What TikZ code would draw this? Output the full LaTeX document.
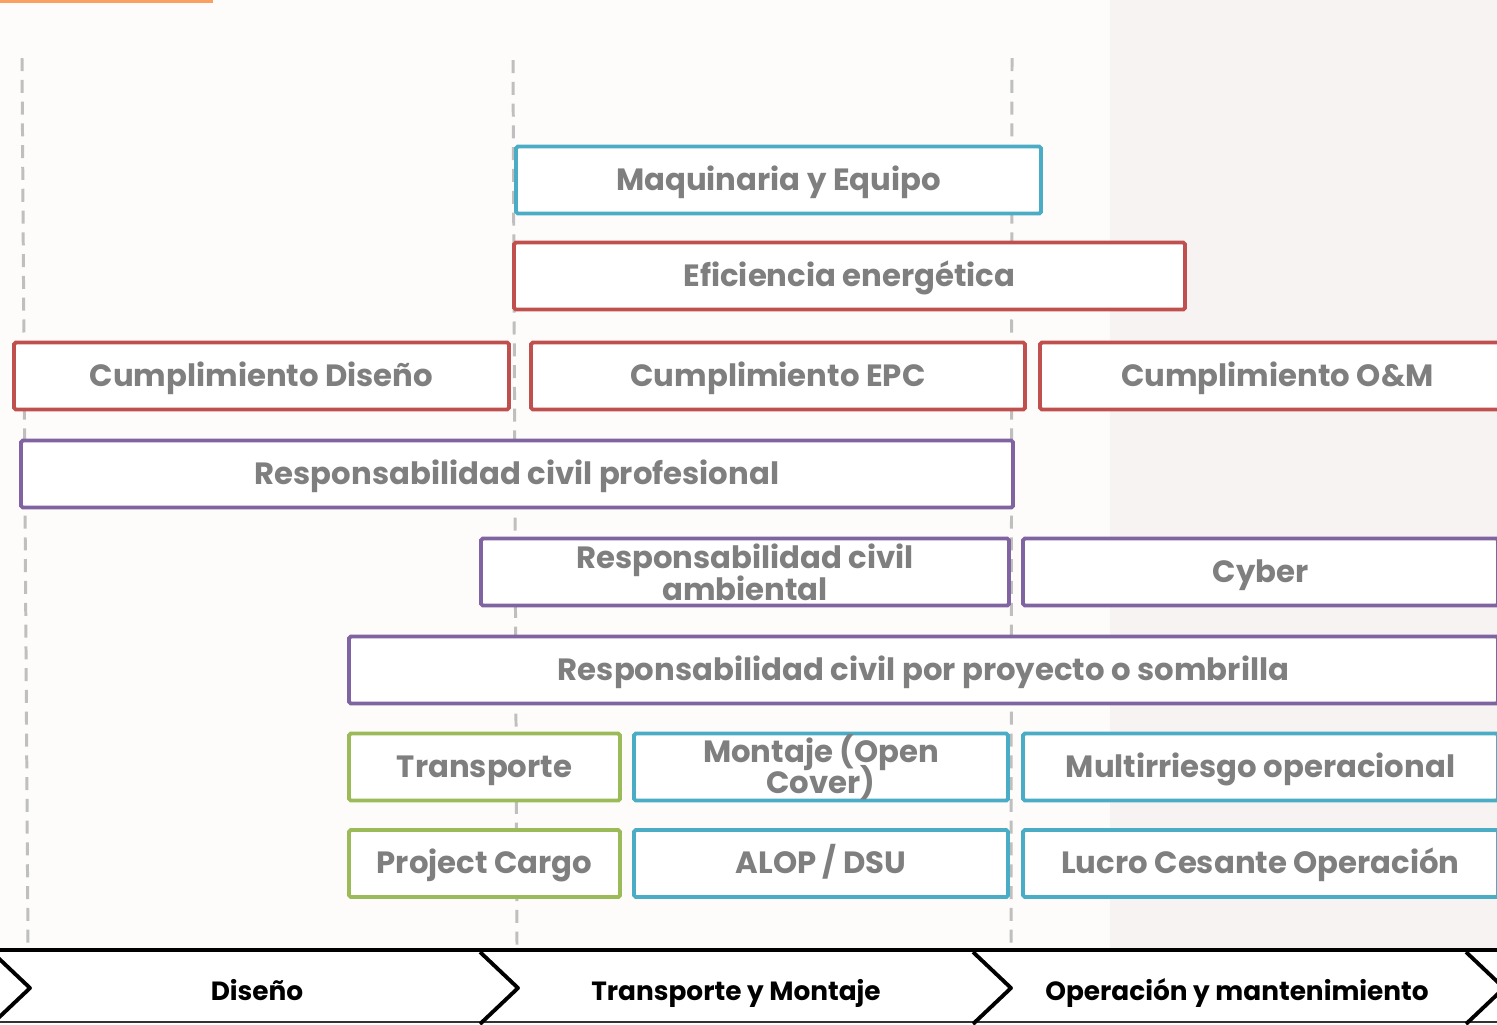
\documentclass[tikz,border=0pt]{standalone}
\usepackage{fontspec}
\setmainfont{Poppins}
\usepackage{tikz}
\usetikzlibrary{positioning, calc}
\definecolor{paperleft}{RGB}{253, 252, 250}
\definecolor{paperright}{RGB}{247, 243, 242}
\definecolor{accentorange}{RGB}{249, 160, 98}
\definecolor{boxred}{RGB}{192, 80, 77}
\definecolor{boxblue}{RGB}{75, 172, 198}
\definecolor{boxpurple}{RGB}{128, 100, 162}
\definecolor{boxgreen}{RGB}{155, 187, 89}
\definecolor{labelgray}{RGB}{127, 127, 127}
\definecolor{guidegray}{RGB}{191, 191, 191}
\newcommand{\coverfont}{\fontsize{17.5}{18}\selectfont\bfseries\lineskiplimit-20pt\relax}

\begin{document}
\begin{tikzpicture}[
    cover/.style={draw, line width=2.2pt, rounded corners=1pt, fill=white,
                  minimum height=1.34cm, inner sep=0pt, align=center,
                  text height=13pt, text depth=1.6pt, text=labelgray,
                  font=\coverfont},
    twoline/.style={text height=, text depth=},
    redbox/.style={cover, draw=boxred},
    bluebox/.style={cover, draw=boxblue},
    purplebox/.style={cover, draw=boxpurple},
    greenbox/.style={cover, draw=boxgreen},
    guide/.style={draw=guidegray, line width=1.7pt, dash pattern=on 7.4pt off 5pt},
    chev/.style={line width=2.2pt, line join=round},
    phase/.style={font=\fontsize{15}{16}\selectfont\bfseries, text=black, anchor=base},
]
    \useasboundingbox (0,0) rectangle (29.94,-20.48);

    % background
    \fill[paperleft]  (0,0) rectangle (29.94,-19.0);
    \fill[paperright] (22.2,0) rectangle (29.94,-19.0);
    \fill[white]      (0,-19.0) rectangle (29.94,-20.48);
    \draw[accentorange, line width=1.7pt] (0,-0.02) -- (4.26,-0.02);

    % phase guides
    \draw[guide] (0.44,-1.16)  -- (0.56,-18.9);
    \draw[guide] (10.26,-1.2)  -- (10.34,-18.9);
    \draw[guide] (20.24,-1.16) -- (20.22,-18.9);

    % coverages
    \node[bluebox,   minimum width=10.50cm] (maq)  at (15.57,-3.60)  {Maquinaria y Equipo};
    \node[redbox,    minimum width=13.42cm] (efi)  at (16.99,-5.52)  {Eficiencia energética};
    \node[redbox,    minimum width=9.90cm]  (cdis) at (5.23,-7.52)   {Cumplimiento Diseño};
    \node[redbox,    minimum width=9.88cm]  (cepc) at (15.56,-7.52)  {Cumplimiento EPC};
    \node[redbox,    minimum width=9.50cm]  (com)  at (25.55,-7.52)  {Cumplimiento O\&M};
    \node[purplebox, minimum width=19.84cm] (rcp)  at (10.34,-9.48)  {Responsabilidad civil profesional};
    \node[purplebox, twoline, minimum width=10.56cm] (rca) at (14.90,-11.44) {Responsabilidad civil\\ambiental};
    \node[purplebox, minimum width=9.50cm]  (cyb)  at (25.21,-11.44) {Cyber};
    \node[purplebox, minimum width=22.98cm] (rcs)  at (18.47,-13.40) {Responsabilidad civil por proyecto o sombrilla};
    \node[greenbox,  minimum width=5.42cm]  (tra)  at (9.69,-15.34)  {Transporte};
    \node[bluebox,   twoline, minimum width=7.48cm] (mon) at (16.42,-15.34) {Montaje (Open\\Cover)};
    \node[bluebox,   minimum width=9.50cm]  (mul)  at (25.21,-15.34) {Multirriesgo operacional};
    \node[greenbox,  minimum width=5.42cm]  (pcg)  at (9.69,-17.27)  {Project Cargo};
    \node[bluebox,   minimum width=7.48cm]  (alo)  at (16.42,-17.27) {ALOP / DSU};
    \node[bluebox,   minimum width=9.50cm]  (luc)  at (25.21,-17.27) {Lucro Cesante Operación};

    % phase bar
    \draw[line width=2.8pt] (0,-19.0) -- (29.94,-19.0);
    \draw[black!80, line width=0.8pt] (0,-20.44) -- (29.94,-20.44);
    \foreach \x in {-0.16, 9.60, 19.46, 29.32} {
        \draw[chev] (\x,-19.04) -- ++(0.76,-0.72) -- ++(-0.76,-0.72);
    }
    \node[phase] (dis) at (5.14,-20.0)  {Diseño};
    \node[phase] (tym) at (14.72,-20.0) {Transporte y Montaje};
    \node[phase] (oym) at (24.74,-20.0) {Operación y mantenimiento};
\end{tikzpicture}
\end{document}
